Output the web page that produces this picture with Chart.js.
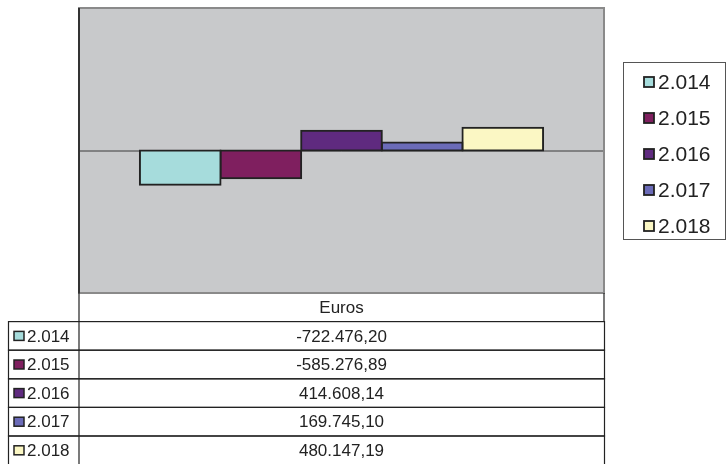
<!DOCTYPE html>
<html>
<head>
<meta charset="utf-8">
<script src="https://cdn.jsdelivr.net/npm/chart.js@4.4.1/dist/chart.umd.min.js"></script>
<style>
  html, body { margin: 0; padding: 0; background: #fff; }
  #wrap { width: 726px; height: 464px; position: relative; }
</style>
</head>
<body>
<div id="wrap"><canvas id="chart"></canvas></div>
<script>
// data
const categories = ['Euros'];
const years = ['2.014', '2.015', '2.016', '2.017', '2.018'];
const values = [-722476.20, -585276.89, 414608.14, 169745.10, 480147.19];
const colors = ['#a6dcdc', '#7f1f5f', '#5f2a7f', '#6b6bb8', '#fbf7c4'];
const yMin = -3000000;
const yMax = 3000000;

// 722476.2 -> "-722.476,20"
function fmtEuro(v) {
    const neg = v < 0;
    const parts = Math.abs(v).toFixed(2).split('.');
    const int = parts[0].replace(/\B(?=(\d{3})+(?!\d))/g, '.');
    return (neg ? '-' : '') + int + ',' + parts[1];
}

const tableAndFrame = {
    id: 'tableAndFrame',
    beforeDraw(chart) {
        const ctx = chart.ctx;
        const a = chart.chartArea;
        ctx.save();
        ctx.fillStyle = '#c8c9cb';
        ctx.fillRect(a.left, a.top, a.right - a.left, a.bottom - a.top);
        // zero line
        const y0 = chart.scales.y.getPixelForValue(0);
        ctx.strokeStyle = '#3a3a3a';
        ctx.lineWidth = 1;
        ctx.beginPath();
        ctx.moveTo(a.left, y0 + 0.5);
        ctx.lineTo(a.right, y0 + 0.5);
        ctx.stroke();
        ctx.restore();
    },
    afterDraw(chart) {
        const ctx = chart.ctx;
        const a = chart.chartArea;
        ctx.save();
        // plot frame
        ctx.strokeStyle = '#8a8a8a';
        ctx.lineWidth = 2;
        ctx.strokeRect(a.left, a.top, a.right - a.left, a.bottom - a.top);
        ctx.strokeStyle = '#333';
        ctx.lineWidth = 2;
        ctx.beginPath();
        ctx.moveTo(a.left, a.top);
        ctx.lineTo(a.left, a.bottom);
        ctx.stroke();

        // data table
        const rowH = 28.6;
        const top = a.bottom;
        const leftCol = 8;
        ctx.strokeStyle = '#222';
        ctx.lineWidth = 1.2;
        ctx.font = '17px "Liberation Sans", Arial, sans-serif';
        ctx.textBaseline = 'middle';
        // header row
        ctx.beginPath();
        ctx.moveTo(a.left, top); ctx.lineTo(a.left, top + rowH);
        ctx.moveTo(a.right, top); ctx.lineTo(a.right, top + rowH);
        ctx.stroke();
        ctx.fillStyle = '#222';
        ctx.textAlign = 'center';
        ctx.fillText(categories[0], (a.left + a.right) / 2, top + rowH / 2 + 1);
        for (let i = 0; i < years.length; i++) {
            const y = top + rowH * (i + 1);
            ctx.strokeRect(leftCol + 0.5, y, a.right - leftCol, rowH);
            ctx.beginPath();
            ctx.moveTo(a.left, y); ctx.lineTo(a.left, y + rowH);
            ctx.stroke();
            // key
            ctx.fillStyle = colors[i];
            ctx.fillRect(14, y + rowH / 2 - 4.5, 10, 9);
            ctx.lineWidth = 1.5;
            ctx.strokeRect(14, y + rowH / 2 - 4.5, 10, 9);
            ctx.lineWidth = 1.2;
            ctx.fillStyle = '#222';
            ctx.textAlign = 'left';
            ctx.fillText(years[i], 27, y + rowH / 2 + 1);
            ctx.textAlign = 'center';
            ctx.fillText(fmtEuro(values[i]), (a.left + a.right) / 2, y + rowH / 2 + 1);
        }

        // legend on the right
        const lx = 623, ly = 62, lw = 102, lh = 177;
        ctx.strokeStyle = '#555';
        ctx.lineWidth = 1;
        ctx.strokeRect(lx + 0.5, ly + 0.5, lw, lh);
        ctx.font = '21px "Liberation Sans", Arial, sans-serif';
        ctx.textAlign = 'left';
        for (let i = 0; i < years.length; i++) {
            const cy = 82 + i * 36;
            ctx.fillStyle = colors[i];
            ctx.fillRect(644, cy - 5, 10, 10);
            ctx.strokeStyle = '#222';
            ctx.lineWidth = 1.8;
            ctx.strokeRect(644, cy - 5, 10, 10);
            ctx.fillStyle = '#222';
            ctx.fillText(years[i], 658, cy + 1);
        }
        ctx.restore();
    }
};

new Chart(document.getElementById('chart'), {
    type: 'bar',
    data: {
        labels: categories,
        datasets: years.map((yr, i) => ({
            label: yr,
            data: [values[i]],
            backgroundColor: colors[i],
            borderColor: '#222',
            borderWidth: 2,
            borderSkipped: false,
            inflateAmount: 1,
            categoryPercentage: 0.768,
            barPercentage: 1.0
        }))
    },
    options: {
        responsive: true,
        maintainAspectRatio: false,
        animation: false,
        layout: { padding: { left: 79, right: 122, top: 8, bottom: 171 } },
        plugins: { legend: { display: false }, tooltip: { enabled: false } },
        scales: {
            x: { display: false },
            y: { display: false, min: yMin, max: yMax }
        }
    },
    plugins: [tableAndFrame]
});
</script>
</body>
</html>
